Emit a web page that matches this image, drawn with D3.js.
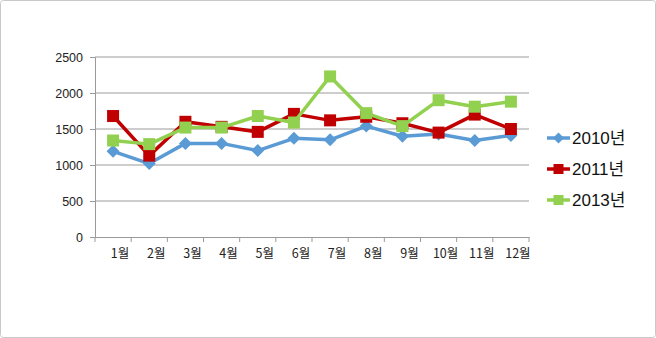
<!DOCTYPE html>
<html><head><meta charset="utf-8">
<script src="https://cdn.jsdelivr.net/npm/d3@7"></script>
<style>body{margin:0;background:#fff;} svg{display:block;}</style>
</head><body>
<svg id="c" width="656" height="338"></svg>
<script>
const months = ["1월","2월","3월","4월","5월","6월","7월","8월","9월","10월","11월","12월"];
const s2010 = [1190,1020,1300,1300,1200,1370,1350,1540,1400,1430,1340,1410];
const s2011 = [1680,1130,1600,1530,1460,1710,1620,1670,1580,1450,1700,1500];
const s2013 = [1340,1290,1520,1520,1680,1590,2230,1720,1540,1900,1810,1880];
const yTicks = [0,500,1000,1500,2000,2500];
const seriesNames = ["2010년","2011년","2013년"];

(function(){
const svg = d3.select("#c");
svg.append("rect").attr("x",0.5).attr("y",0.5).attr("width",655).attr("height",337)
  .attr("rx",3).attr("fill","#fff").attr("stroke","#c8c8c8");

const pl=95, pr=529, pt=57, pb=237;
const x = d3.scaleBand().domain(months).range([pl,pr]);
const y = d3.scaleLinear().domain([0,2500]).range([pb,pt]);

// gridlines
svg.append("g").selectAll("line").data(yTicks.filter(d=>d>0)).join("line")
  .attr("x1",pl).attr("x2",pr).attr("y1",d=>y(d)).attr("y2",d=>y(d))
  .attr("stroke","#bcbcbc").attr("stroke-width",1.5);

// y axis
const ya = svg.append("g").attr("transform",`translate(${pl},0)`)
  .call(d3.axisLeft(y).tickValues(yTicks).tickFormat(d3.format("d")).tickSize(5).tickPadding(7));
ya.select(".domain").attr("stroke","#9a9a9a");
ya.selectAll(".tick line").attr("stroke","#9a9a9a");
ya.selectAll("text").attr("font-family","'Liberation Sans Narrow','Arial Narrow',sans-serif")
  .attr("font-size",12.5).attr("fill","#222");

// x axis
const xa = svg.append("g").attr("transform",`translate(0,${pb})`)
  .call(d3.axisBottom(x).tickSize(0).tickPadding(12));
xa.select(".domain").attr("stroke","#9a9a9a");
xa.selectAll(".tick line").remove();
xa.selectAll(".tick text").attr("dx",7)
  .attr("font-family","'Liberation Sans Narrow','Noto Sans CJK KR',sans-serif")
  .attr("font-size",12.5).attr("fill","#222");
// category boundary ticks
svg.append("g").selectAll("line").data(months.concat(["end"])).join("line")
  .attr("x1",(d,i)=>pl+i*x.bandwidth()).attr("x2",(d,i)=>pl+i*x.bandwidth())
  .attr("y1",pb).attr("y2",pb+5).attr("stroke","#9a9a9a");

const cx = m => x(m)+x.bandwidth()/2;
const line = d3.line().x((d,i)=>cx(months[i])).y(d=>y(d));

const cfg = [
  {data:s2010,color:"#5b9bd5",shape:"diamond"},
  {data:s2011,color:"#c00000",shape:"square"},
  {data:s2013,color:"#92d050",shape:"square"}
];
const drawMarker = (g,shape,color,px,py,big) => {
  if(shape==="diamond"){
    const r = big?6.5:5.5;
    g.append("path").attr("d",`M${px},${py-r}L${px+r},${py}L${px},${py+r}L${px-r},${py}Z`).attr("fill",color);
  } else {
    const s = big?12:10;
    g.append("rect").attr("x",px-s/2).attr("y",py-s/2).attr("width",s).attr("height",s).attr("fill",color);
  }
};
cfg.forEach(c=>{
  const g = svg.append("g");
  g.append("path").datum(c.data).attr("d",line).attr("fill","none")
    .attr("stroke",c.color).attr("stroke-width",3.5).attr("stroke-linejoin","round");
  c.data.forEach((v,i)=>drawMarker(g,c.shape,c.color,cx(months[i]),y(v),true));
});

// legend
const lg = svg.append("g");
const ly = [138,169,200];
cfg.forEach((c,i)=>{
  lg.append("line").attr("x1",547).attr("x2",570).attr("y1",ly[i]).attr("y2",ly[i])
    .attr("stroke",c.color).attr("stroke-width",3.5);
  drawMarker(lg,c.shape,c.color,558.5,ly[i],false);
  lg.append("text").attr("x",572).attr("y",ly[i]+6).text(seriesNames[i])
    .attr("font-family","'Liberation Sans','Noto Sans CJK KR',sans-serif")
    .attr("font-size",17).attr("fill","#111");
});
})();
</script>
</body></html>
